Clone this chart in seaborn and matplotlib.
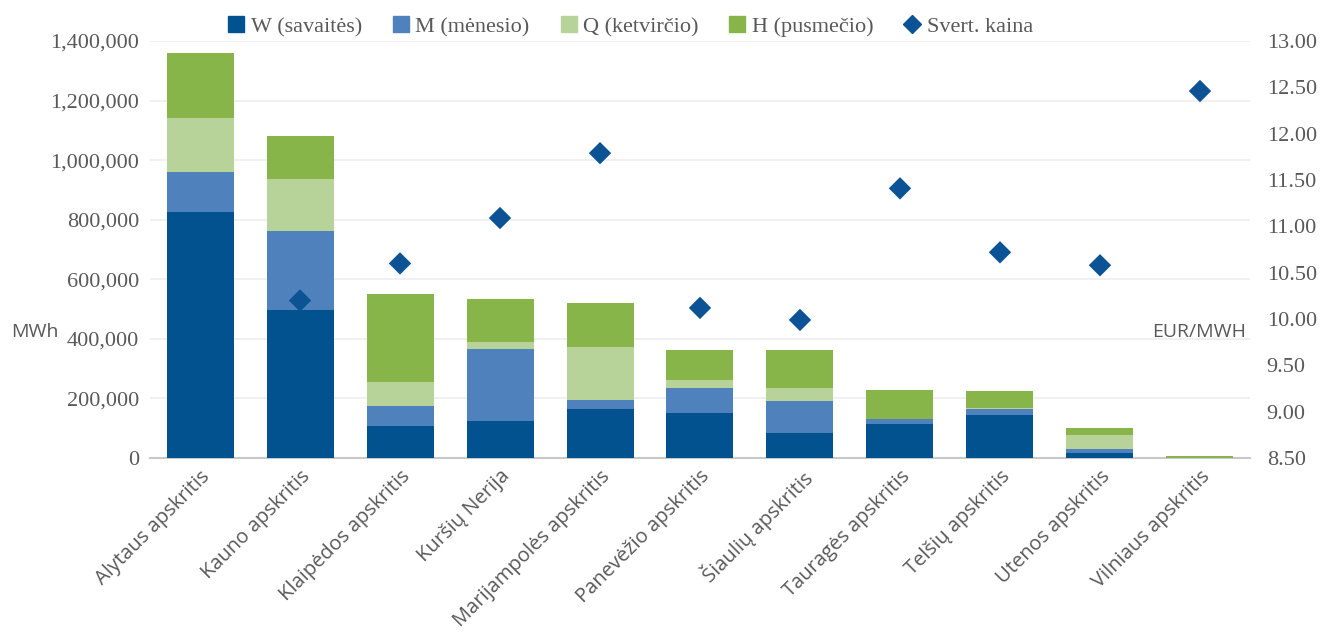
import numpy as np
import pandas as pd
import matplotlib.pyplot as plt
import seaborn as sns
from matplotlib.lines import Line2D
from matplotlib.ticker import FuncFormatter, MultipleLocator

regions = ["Alytaus apskritis", "Kauno apskritis", "Klaipėdos apskritis", "Kuršių Nerija",
           "Marijampolės apskritis", "Panevėžio apskritis", "Šiaulių apskritis",
           "Tauragės apskritis", "Telšių apskritis", "Utenos apskritis", "Vilniaus apskritis"]
w_vals = [826000, 497000, 107000, 124000, 164000, 151000, 84000, 114000, 144000, 17000, 0]
m_vals = [134000, 265000, 68000, 242000, 31000, 84000, 107000, 17000, 20000, 13000, 0]
q_vals = [181000, 175000, 80000, 23000, 178000, 27000, 44000, 0, 4000, 47000, 0]
h_vals = [219000, 144000, 296000, 145000, 147000, 101000, 128000, 97000, 57000, 24000, 8000]
price = [np.nan, 10.20, 10.60, 11.09, 11.79, 10.12, 9.99, 11.41, 10.72, 10.58, 12.46]

series = ["W (savaitės)", "M (mėnesio)", "Q (ketvirčio)", "H (pusmečio)"]
colors = ["#02528f", "#4f81bd", "#b8d39a", "#87b54a"]

df = pd.DataFrame({"region": regions, "W": w_vals, "M": m_vals, "Q": q_vals, "H": h_vals,
                   "price": price})
stack = df[["W", "M", "Q", "H"]].cumsum(axis=1)

sns.set_style("white")
fig = plt.figure(figsize=(13.24, 6.35), dpi=100)
ax = fig.add_axes([0.1133, 0.2787, 0.8308, 0.6567])

# draw cumulative totals from the top layer down so they stack
for col, c in zip(["H", "Q", "M", "W"], colors[::-1]):
    sns.barplot(x=df["region"], y=stack[col], color=c, width=0.67, ax=ax,
                saturation=1, linewidth=0, zorder=3)

ax.set_ylim(0, 1400000)
ax.set_xlim(-0.5, len(regions) - 0.5)
ax.yaxis.set_major_locator(MultipleLocator(200000))
ax.yaxis.set_major_formatter(FuncFormatter(lambda v, p: f"{v:,.0f}"))
ax.grid(axis="y", color="#eeeeee", linewidth=1.2, zorder=0)
ax.set_axisbelow(True)
for s in ["top", "right", "left"]:
    ax.spines[s].set_visible(False)
ax.spines["bottom"].set_color("#c8c8c8")
ax.spines["bottom"].set_linewidth(1.5)
ax.set_xlabel("")
ax.set_ylabel("")
ax.tick_params(axis="both", length=0)
ax.tick_params(axis="y", pad=8)
for lab in ax.get_yticklabels():
    lab.set_fontfamily("Liberation Serif")
    lab.set_fontsize(16)
    lab.set_color("#595959")
ax.set_xticks(range(len(regions)))
ax.set_xticklabels(regions, rotation=45, ha="right", rotation_mode="anchor",
                   fontfamily="Open Sans", fontsize=14.5, color="#595959")
ax.tick_params(axis="x", pad=6)

ax2 = ax.twinx()
sns.scatterplot(x=np.arange(len(regions)), y=df["price"], marker="D", s=130,
                color="#0b5394", edgecolor="none", ax=ax2, zorder=5)
ax2.set_ylim(8.5, 13.0)
ax2.yaxis.set_major_locator(MultipleLocator(0.5))
ax2.yaxis.set_major_formatter(FuncFormatter(lambda v, p: f"{v:.2f}"))
for s in ax2.spines.values():
    s.set_visible(False)
ax2.tick_params(axis="y", length=0, pad=12)
ax2.set_ylabel("")
for lab in ax2.get_yticklabels():
    lab.set_fontfamily("Liberation Serif")
    lab.set_fontsize(16)
    lab.set_color("#595959")

fig.text(11 / 1324, 1 - 332 / 635, "MWh", fontfamily="Open Sans", fontsize=14,
         color="#595959", va="center", ha="left")
fig.text(1246 / 1324, 1 - 332 / 635, "EUR/MWH", fontfamily="Open Sans", fontsize=14,
         color="#595959", va="center", ha="right")

handles = [Line2D([], [], marker="s", linestyle="", color=c, markersize=11) for c in colors]
handles.append(Line2D([], [], marker="D", linestyle="", color="#0b5394", markersize=9))
fig.legend(handles, series + ["Svert. kaina"], loc="center", bbox_to_anchor=(0.474, 1 - 27 / 635),
           ncol=5, frameon=False, handletextpad=0.0, columnspacing=1.1, handlelength=1.3,
           prop={"family": "Liberation Serif", "size": 16}, labelcolor="#595959")

fig.savefig("out.png", dpi=100)
